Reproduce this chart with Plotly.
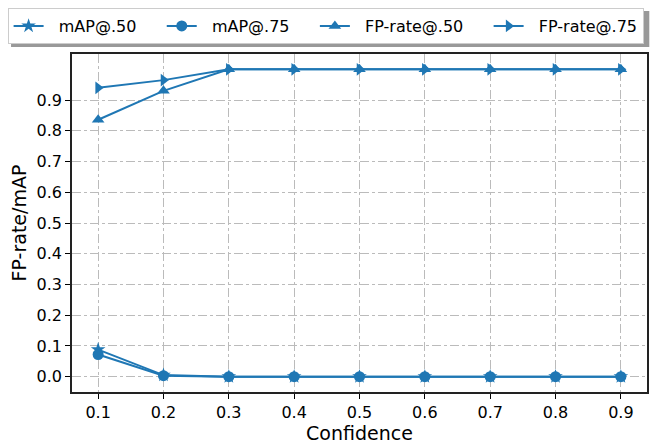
import plotly.graph_objects as go

confidence = [0.1, 0.2, 0.3, 0.4, 0.5, 0.6, 0.7, 0.8, 0.9]
map_50 = [0.088, 0.005, 0.0, 0.0, 0.0, 0.0, 0.0, 0.0, 0.0]
map_75 = [0.072, 0.003, 0.0, 0.0, 0.0, 0.0, 0.0, 0.0, 0.0]
fp_50 = [0.836, 0.93, 1.0, 1.0, 1.0, 1.0, 1.0, 1.0, 1.0]
fp_75 = [0.94, 0.965, 1.0, 1.0, 1.0, 1.0, 1.0, 1.0, 1.0]

labels = ['mAP@.50', 'mAP@.75', 'FP-rate@.50', 'FP-rate@.75']
symbols = ['star', 'circle', 'triangle-up', 'triangle-right']
y_ticks = [0.0, 0.1, 0.2, 0.3, 0.4, 0.5, 0.6, 0.7, 0.8, 0.9]

blue = '#1f77b4'
nb = '\u00a0'  # non-breaking space, used to spread the legend entries

fig = go.Figure()
for i, (label, vals, sym) in enumerate(zip(labels, [map_50, map_75, fp_50, fp_75], symbols)):
    pad_right = nb * 4 if i < len(labels) - 1 else ''
    fig.add_trace(go.Scatter(
        x=confidence, y=vals, name=nb * 2 + label + pad_right,
        mode='lines+markers',
        line=dict(color=blue, width=2),
        marker=dict(symbol=sym, size=11, color=blue),
        hovertemplate=label + '<br>%{x}, %{y}<extra></extra>',
    ))

# fake legend shadow (paper coords, plot area ~575 x 338 px)
fig.add_shape(type='rect', xref='paper', yref='paper',
              x0=-0.106, x1=1.004, y0=1.0207, y1=1.127,
              fillcolor='#999999', line=dict(width=0), layer='below')

fig.update_layout(
    width=665,
    height=445,
    autosize=False,
    margin=dict(l=64, r=26, t=46, b=61, autoexpand=False),
    paper_bgcolor='white',
    plot_bgcolor='white',
    font=dict(family='DejaVu Sans', size=16, color='black'),
    showlegend=True,
    legend=dict(
        orientation='h',
        x=-0.112, xanchor='left',
        y=1.136, yanchor='top',
        bgcolor='white',
        bordercolor='#cccccc',
        borderwidth=1,
        font=dict(size=16),
        tracegroupgap=0,
    ),
    xaxis=dict(
        title=dict(text='Confidence', font=dict(size=19), standoff=4),
        range=[0.06, 0.94],
        tickvals=confidence,
        ticktext=[f'{v:.1f}' for v in confidence],
        ticks='outside', ticklen=5, tickcolor='black',
        showline=True, linecolor='#222222', linewidth=1.5, mirror=True,
        showgrid=True, gridcolor='#bbbbbb', griddash='dashdot', gridwidth=1,
        zeroline=False,
    ),
    yaxis=dict(
        title=dict(text='FP-rate/mAP', font=dict(size=19), standoff=8),
        range=[-0.05, 1.05],
        tickvals=y_ticks,
        ticktext=[f'{v:.1f}' for v in y_ticks],
        ticks='outside', ticklen=5, tickcolor='black',
        showline=True, linecolor='#222222', linewidth=1.5, mirror=True,
        showgrid=True, gridcolor='#bbbbbb', griddash='dashdot', gridwidth=1,
        zeroline=False,
    ),
)

fig.write_html('out.html')
